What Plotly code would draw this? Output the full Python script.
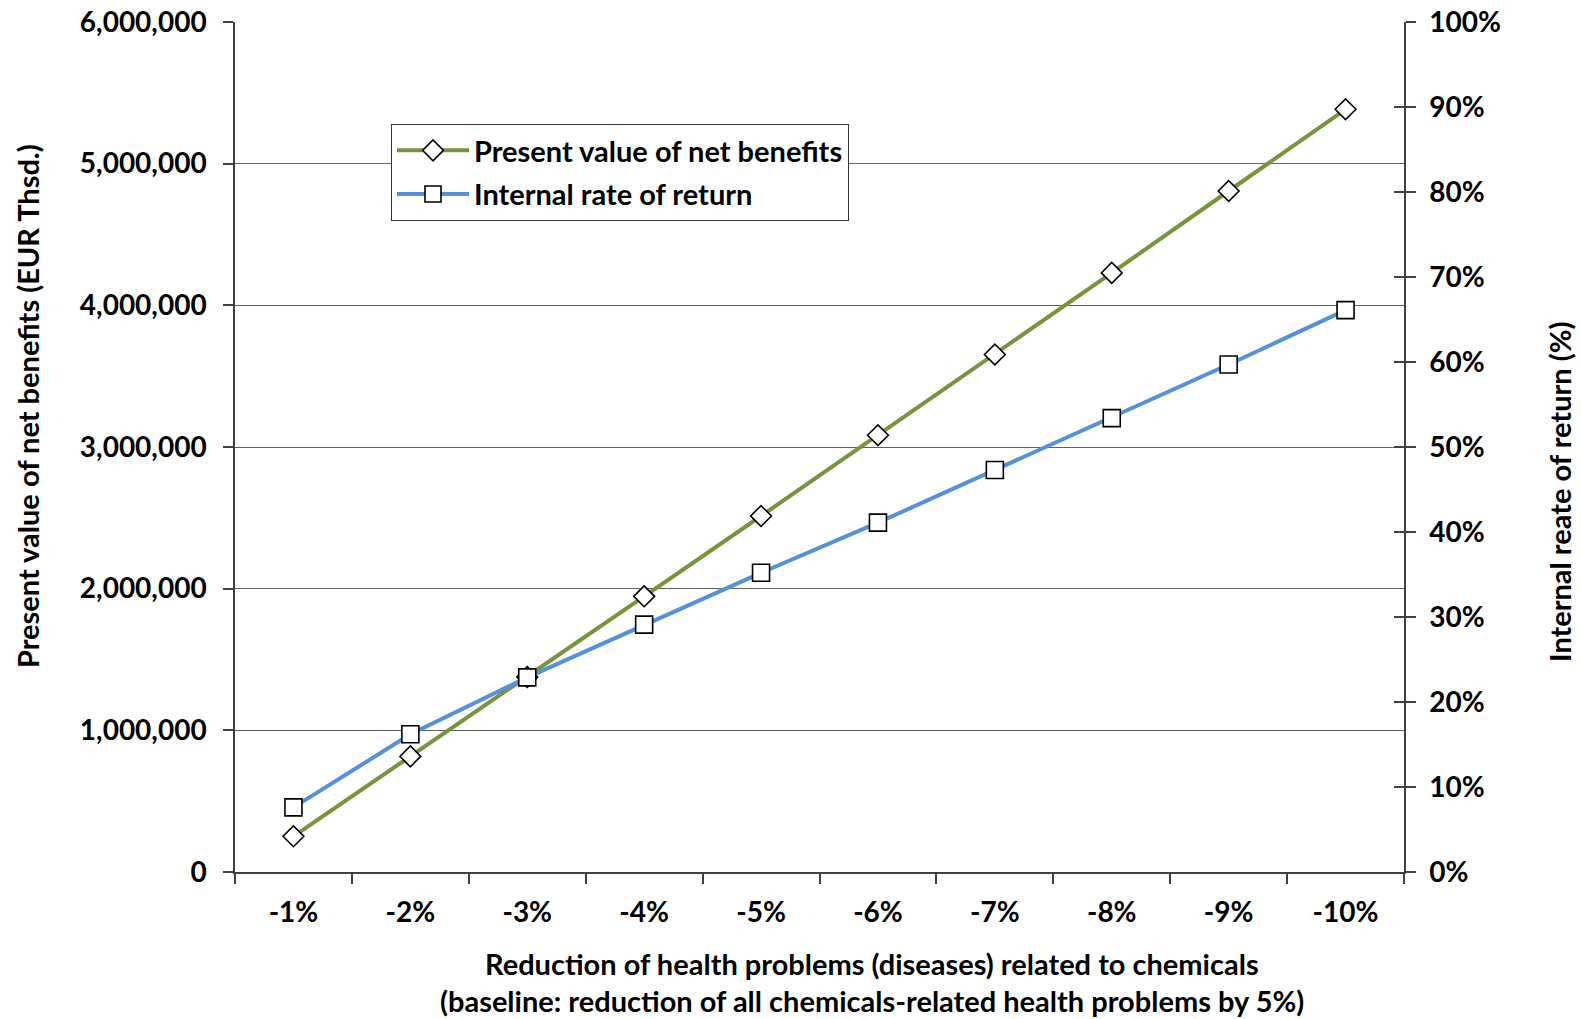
import plotly.graph_objects as go

# Scenario categories (reduction of chemical-related health problems)
categories = ["-1%", "-2%", "-3%", "-4%", "-5%", "-6%", "-7%", "-8%", "-9%", "-10%"]

# Present value of net benefits, EUR thousand
pv_net_benefits = [252000, 816000, 1376000, 1946000, 2513000,
                   3083000, 3653000, 4229000, 4807000, 5384000]

# Internal rate of return, as a fraction
irr = [0.076, 0.162, 0.229, 0.291, 0.352, 0.411, 0.473, 0.534, 0.597, 0.661]

left_ticks = [0, 1000000, 2000000, 3000000, 4000000, 5000000, 6000000]
right_ticks = [0, 0.1, 0.2, 0.3, 0.4, 0.5, 0.6, 0.7, 0.8, 0.9, 1.0]

FONT = "Lato"
GREEN = "#77933C"
BLUE = "#5590D8"
AXIS = "#404040"
GRID = "#606060"

W, H = 1581, 1019
L, R, T, B = 235, 1404, 22, 872  # plot area in pixels


def px_x(x):
    return (x - L) / (R - L)


def px_y(y):
    return (B - y) / (B - T)


fig = go.Figure()

fig.add_trace(go.Scatter(
    x=categories, y=pv_net_benefits, name="Present value of net benefits",
    mode="lines+markers", legendgroup="pv",
    line=dict(color=GREEN, width=4),
    marker=dict(symbol="diamond", size=16, color="white",
                line=dict(color="black", width=1.6)),
    yaxis="y",
))

fig.add_trace(go.Scatter(
    x=categories, y=irr, name="Internal rate of return",
    mode="lines+markers", legendgroup="irr",
    line=dict(color=BLUE, width=4),
    marker=dict(symbol="square", size=17, color="white",
                line=dict(color="black", width=1.6)),
    yaxis="y2",
))

tickfont = dict(family=FONT, size=28, color="black", weight="bold")
textfont = dict(family=FONT, size=29, color="black", weight="bold")

fig.update_layout(
    width=W, height=H,
    margin=dict(l=L, r=W - R, t=T, b=H - B, pad=0, autoexpand=False),
    paper_bgcolor="white", plot_bgcolor="white",
    font=textfont,
    showlegend=True,
    legend=dict(
        x=px_x(391), y=px_y(124), xanchor="left", yanchor="top",
        bgcolor="white", bordercolor="#333333", borderwidth=1,
        font=textfont,
        traceorder="grouped", tracegroupgap=3, itemwidth=72,
        entrywidth=400, entrywidthmode="pixels",
    ),
    xaxis=dict(
        type="category", range=[-0.5, 9.5], tickson="boundaries",
        ticks="outside", ticklen=10, tickcolor=AXIS, tickwidth=1.5,
        showline=True, linecolor=AXIS, linewidth=1.5,
        showgrid=False, zeroline=False, tickfont=tickfont,
        ticklabelstandoff=15, automargin=False,
    ),
    yaxis=dict(
        range=[0, 6000000], tickvals=left_ticks, tickformat=",d",
        ticks="outside", ticklen=10, tickcolor=AXIS, tickwidth=1.5,
        showline=True, linecolor=AXIS, linewidth=1.5,
        showgrid=True, gridcolor=GRID, gridwidth=1.2,
        zeroline=False, tickfont=tickfont, ticklabelstandoff=11,
        automargin=False,
    ),
    yaxis2=dict(
        range=[0, 1], tickvals=right_ticks, tickformat=".0%",
        overlaying="y", side="right", anchor="x",
        ticks="outside", ticklen=10, tickcolor=AXIS, tickwidth=1.5,
        showline=True, linecolor=AXIS, linewidth=1.5,
        showgrid=False, zeroline=False, tickfont=tickfont,
        ticklabelstandoff=8, automargin=False,
    ),
    # inner half of the cross ticks on the right axis
    yaxis3=dict(
        range=[0, 1], tickvals=right_ticks, overlaying="y", side="right",
        anchor="x", ticks="inside", ticklen=10, tickcolor=AXIS, tickwidth=1.5,
        showticklabels=False, showline=False, showgrid=False, zeroline=False,
        automargin=False,
    ),
)

# keep the inner-tick axis alive with an invisible trace
fig.add_trace(go.Scatter(x=[categories[0]], y=[0], yaxis="y3", mode="markers",
                         marker=dict(opacity=0), showlegend=False,
                         hoverinfo="skip"))

fig.add_annotation(
    text="Present value of net benefits (EUR Thsd.)", textangle=-90,
    xref="paper", yref="paper", x=px_x(27), y=px_y(406),
    xanchor="center", yanchor="middle", showarrow=False, font=textfont,
)
fig.add_annotation(
    text="Internal reate of return (%)", textangle=-90,
    xref="paper", yref="paper", x=px_x(1559), y=px_y(492),
    xanchor="center", yanchor="middle", showarrow=False, font=textfont,
)
fig.add_annotation(
    text="Reduction of health problems (diseases) related to chemicals",
    xref="paper", yref="paper", x=px_x(872), y=px_y(964),
    xanchor="center", yanchor="middle", showarrow=False, font=textfont,
    borderpad=0,
)
fig.add_annotation(
    text="(baseline: reduction of all chemicals-related health problems by 5%)",
    xref="paper", yref="paper", x=px_x(872), y=px_y(1000),
    xanchor="center", yanchor="middle", showarrow=False, font=textfont,
    borderpad=0,
)

fig.write_html("out.html")
